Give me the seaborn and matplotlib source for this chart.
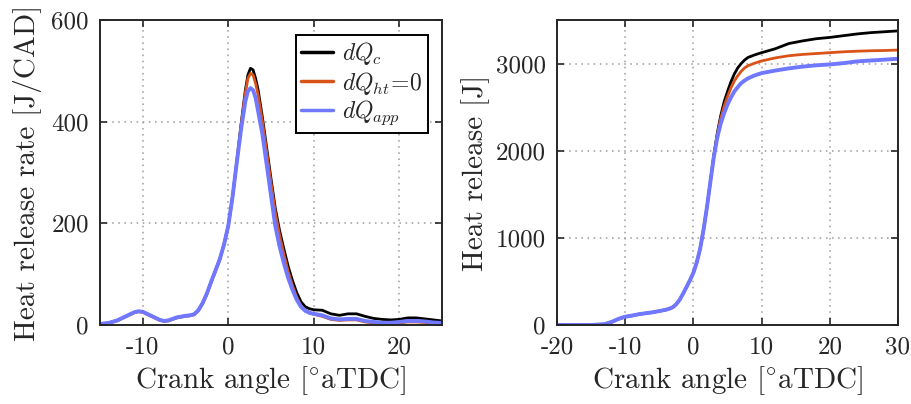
import numpy as np
import pandas as pd
import matplotlib
matplotlib.use("Agg")
import matplotlib.pyplot as plt
import seaborn as sns

# ---------------- data ----------------
x_rate = [-15, -14, -13, -12, -11, -10.5, -10, -9, -8, -7.5, -7, -6, -5, -4.5, -4,
          -3.5, -3, -2.5, -2, -1.5, -1, -0.5, 0, 0.5, 1, 1.5, 2, 2.3, 2.6, 2.9,
          3.2, 3.5, 4, 4.5, 5, 5.5, 6, 6.5, 7, 7.5, 8, 8.5, 9, 9.5, 10,
          11, 12, 13, 14, 15, 16, 17, 18, 19, 20, 21, 22, 23, 24, 25]
rate_c = [2, 4, 9, 17, 25, 27, 26, 18, 10, 8, 9, 15, 18, 19, 21,
          29, 43, 62, 85, 107, 129, 158, 195, 252, 322, 395, 462, 492, 505, 502,
          485, 462, 408, 348, 288, 230, 186, 150, 116, 88, 64, 46, 36, 32, 30,
          29, 22, 19, 22, 22, 17, 13, 11, 10, 11, 14, 14, 12, 10, 8]
rate_ht0 = [2, 3.5, 8, 16, 24, 26, 25, 17, 9, 7, 8, 14, 17, 18, 20,
            28, 42, 61, 84, 106, 128, 158, 195, 252, 321, 392, 457, 485, 495, 492,
            475, 452, 400, 340, 280, 222, 177, 140, 106, 78, 55, 38, 29, 24, 21,
            17, 11, 9, 10, 10, 6, 4, 3, 3, 4, 6, 6, 5, 3.5, 3]
rate_app = [2, 4, 9, 17, 25, 27, 26, 18, 10, 8, 9, 15, 18, 19, 21,
            29, 43, 62, 85, 107, 129, 158, 195, 252, 320, 385, 440, 460, 466, 462,
            447, 420, 375, 315, 255, 195, 155, 122, 93, 70, 50, 36, 28, 24, 22,
            19, 13, 11, 12, 12, 8, 6, 4.5, 4.5, 6, 8, 8, 7, 5, 4]

x_cum = [-20, -15, -13, -12, -11, -10, -9, -8, -7, -6, -5, -4, -3.5, -3, -2.5, -2,
         -1.5, -1, -0.5, 0, 0.5, 1, 1.5, 2, 2.5, 3, 3.5, 4, 4.5, 5, 5.5,
         6, 6.5, 7, 7.5, 8, 9, 10, 12, 14, 16, 18, 20, 22, 24, 26, 28, 30]
cum_c = [0, 0, 10, 35, 70, 95, 108, 124, 135, 146, 160, 176, 188, 205, 240, 292,
         362, 438, 515, 600, 720, 880, 1100, 1360, 1650, 1950, 2200, 2400, 2560, 2680, 2790,
         2880, 2950, 3000, 3040, 3070, 3100, 3125, 3170, 3230, 3260, 3285, 3300, 3320, 3340, 3355, 3365, 3375]
cum_ht0 = [0, 0, 8, 32, 66, 92, 106, 122, 133, 144, 158, 173, 185, 202, 237, 289,
           359, 435, 512, 598, 718, 878, 1098, 1358, 1648, 1945, 2180, 2370, 2510, 2620, 2720,
           2800, 2860, 2910, 2950, 2975, 3005, 3030, 3065, 3090, 3105, 3115, 3125, 3135, 3142, 3147, 3150, 3155]
cum_app = [0, 0, 10, 35, 70, 95, 108, 124, 135, 146, 160, 176, 188, 205, 240, 292,
           362, 438, 515, 600, 720, 880, 1100, 1360, 1650, 1930, 2150, 2310, 2430, 2530, 2610,
           2680, 2730, 2775, 2805, 2830, 2865, 2890, 2920, 2945, 2965, 2980, 2990, 3005, 3025, 3035, 3045, 3055]

labels = [r"$dQ_{c}$", r"$dQ_{ht}\!=\!0$", r"$dQ_{app}$"]
colors = ["#000000", "#D95319", "#6F78FF"]
widths = [2.0, 2.0, 2.8]

# ---------------- style ----------------
sns.set_style("ticks")
plt.rcParams["font.family"] = ["cmr10", "DejaVu Serif"]
plt.rcParams["mathtext.fontset"] = "cm"
plt.rcParams["axes.unicode_minus"] = False
plt.rcParams["axes.formatter.use_mathtext"] = False

fig = plt.figure(figsize=(9.12, 4.04), dpi=100)
ax1 = fig.add_axes([100 / 912, 79 / 404, 342 / 912, 305 / 404])
ax2 = fig.add_axes([557 / 912, 79 / 404, 341 / 912, 305 / 404])

def draw(ax, x, series, legend):
    for vals, lab, col, lw in zip(series, labels, colors, widths):
        df = pd.DataFrame({"x": x, "y": vals})
        sns.lineplot(data=df, x="x", y="y", ax=ax, color=col, lw=lw,
                     label=lab if legend else None, legend=False)

draw(ax1, x_rate, [rate_c, rate_ht0, rate_app], True)
draw(ax2, x_cum, [cum_c, cum_ht0, cum_app], False)

def style(ax):
    ax.grid(True, linestyle=(0, (1, 3)), color="#9a9a9a", lw=1.1)
    ax.tick_params(direction="in", length=5, width=1.2, top=True, right=True,
                   labelsize=18, color="#262626", pad=8)
    for s in ax.spines.values():
        s.set_color("#262626")
        s.set_linewidth(1.4)
    ax.set_xlabel(r"Crank angle [$^{\circ}$aTDC]", fontsize=21, labelpad=4)

ax1.set_xlim(-15, 25)
ax1.set_ylim(0, 600)
ax1.set_xticks([-10, 0, 10, 20])
ax1.set_yticks([0, 200, 400, 600])
style(ax1)
ax1.set_ylabel("Heat release rate [J/CAD]", fontsize=21, labelpad=7)

ax2.set_xlim(-20, 30)
ax2.set_ylim(0, 3500)
ax2.set_xticks([-20, -10, 0, 10, 20, 30])
ax2.set_yticks([0, 1000, 2000, 3000])
style(ax2)
ax2.set_ylabel("Heat release [J]", fontsize=21, labelpad=4)

leg = ax1.legend(loc="upper right", fontsize=17, frameon=True, fancybox=False,
                 edgecolor="#000000", framealpha=1, handlelength=1.35,
                 handletextpad=0.4, borderpad=0.22, labelspacing=0.1,
                 borderaxespad=0, bbox_to_anchor=(0.959, 0.951))
leg.get_frame().set_linewidth(1.4)
for line in leg.get_lines():
    line.set_linewidth(2.5)

fig.savefig("out.png", dpi=100)
